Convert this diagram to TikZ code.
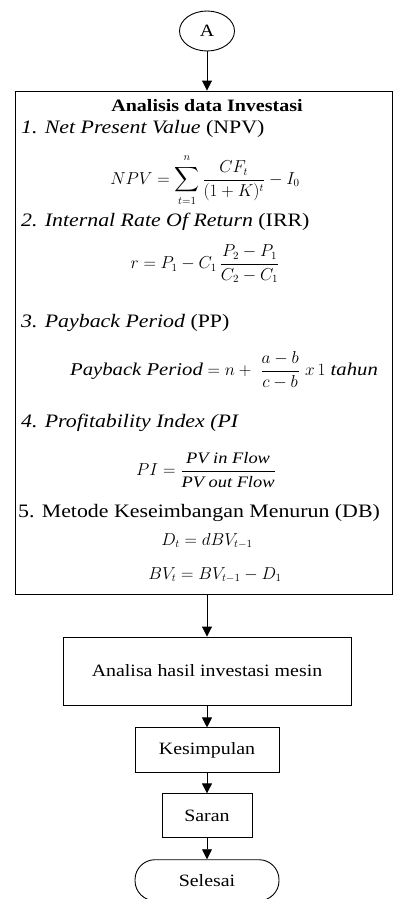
\documentclass[tikz,border=0pt]{standalone}
\usepackage{amsmath}
\usepackage{fontspec}
\setmainfont{Liberation Serif}[FakeStretch=1.15]
\usepackage{tikz}
\usetikzlibrary{positioning, arrows.meta, shapes.geometric}
\definecolor{inkBlack}{RGB}{0,0,0}

\tikzset{
  flowbox/.style={draw=inkBlack, line width=0.9pt, rectangle, align=center,
    font=\fontsize{17.3}{20}\selectfont},
  flowarrow/.style={draw=inkBlack, line width=0.9pt, -{Triangle[length=10pt,width=10pt]}},
  itemline/.style={anchor=west, inner sep=0pt, font=\fontsize{19}{22}\selectfont},
  formula/.style={inner sep=0pt, font=\fontsize{16}{19}\selectfont},
}

\begin{document}
\begin{tikzpicture}[x=1pt, y=1pt]
        \useasboundingbox (0,0) rectangle (393,-899);
        \node[flowbox, ellipse, minimum width=55pt, minimum height=40pt] (conA) at (207,-31) {A};
        \node[draw=inkBlack, line width=0.9pt, minimum width=377pt, minimum height=503pt,
              inner sep=0pt] (databox) at (203.5,-342.5) {};
        \node[font=\bfseries\fontsize{17.4}{20}\selectfont] (dbtitle) at (207,-106) {Analisis data Investasi};
        \node[itemline] (item1) at (21,-129) {\textit{1. Net Present Value} (NPV)};
        \node[formula] (eqnpv) at (205,-180)
          {$\displaystyle NPV = \sum_{t=1}^{\raisebox{2pt}{$\scriptstyle n$}}\frac{CF_t}{(1+K)^t} - I_0$};
        \node[itemline] (item2) at (21,-222) {\textit{2. Internal Rate Of Return} (IRR)};
        \node[formula] (eqirr) at (205,-264) {$\displaystyle r = P_1 - C_1\,\frac{P_2 - P_1}{C_2 - C_1}$};
        \node[itemline] (item3) at (21,-323) {\textit{3. Payback Period} (PP)};
        \node[formula, font=\fontsize{18}{21}\selectfont] (eqpp) at (224,-370)
          {$\displaystyle \textit{Payback Period} = n + \ \frac{a-b}{c-b}\ x\,1\ \textit{tahun}$};
        \node[itemline] (item4) at (21,-423) {\textit{4. Profitability Index (PI}};
        \node[formula] (eqpi) at (206,-470) {$\displaystyle PI = \frac{\textit{PV in Flow}}{\textit{PV out Flow}}$};
        \node[itemline] (item5) at (18,-513) {5. Metode Keseimbangan Menurun (DB)};
        \node[formula] (eqdt) at (207,-541) {$D_t = dBV_{t-1}$};
        \node[formula] (eqbv) at (215,-575) {$BV_t = BV_{t-1} - D_1$};

        \node[flowbox, minimum width=288pt, minimum height=68pt] (analisa) at (207,-671) {Analisa hasil investasi mesin};
        \node[flowbox, minimum width=144pt, minimum height=45pt, below=22pt of analisa] (simpul) {Kesimpulan};
        \node[flowbox, minimum width=90pt, minimum height=44pt, below=20pt of simpul] (saran) {Saran};
        \node[flowbox, minimum width=144pt, minimum height=41pt, rounded corners=20pt,
              below=21pt of saran] (selesai) {Selesai};

        \draw[flowarrow] (conA.south) -- (conA.south |- databox.north);
        \draw[flowarrow] (conA.south |- databox.south) -- (analisa.north);
        \draw[flowarrow] (analisa) -- (simpul);
        \draw[flowarrow] (simpul) -- (saran);
        \draw[flowarrow] (saran) -- (selesai);
      \end{tikzpicture}
\end{document}
